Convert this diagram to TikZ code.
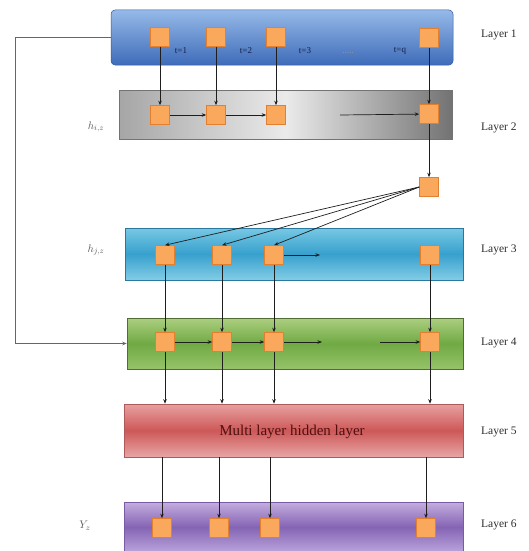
\documentclass[tikz,border=0pt]{standalone}
\usepackage{fontspec}
\setmainfont{Liberation Serif}
\usetikzlibrary{arrows.meta}
\definecolor{sqfill}{RGB}{250,168,92}
\definecolor{sqdraw}{RGB}{226,128,48}
\definecolor{lbl}{RGB}{45,45,45}
\definecolor{conn}{RGB}{30,30,30}
\tikzset{
  lay/.style={rectangle, minimum width=#1, inner sep=0pt, line width=0.5pt},
  sq/.style={rectangle, minimum width=19pt, minimum height=19pt, inner sep=0pt, fill=sqfill, draw=sqdraw, line width=0.6pt},
  arr/.style={draw=conn, line width=0.7pt, -{Stealth[length=4.5pt,width=3.5pt]}},
  laylbl/.style={anchor=west, text=lbl, font=\fontsize{11.5}{12}\selectfont, inner sep=0pt},
  tlbl/.style={text={rgb,255:red,20;green,30;blue,70}, font=\fontsize{9}{10}\selectfont, inner sep=0pt},
  hlbl/.style={text=black!65, font=\fontsize{11}{12}\selectfont, inner sep=0pt}
}
\begin{document}
\begin{tikzpicture}[x=1pt,y=-1pt]
\useasboundingbox (0,0) rectangle (529,551);
% layer boxes
\node[lay=342pt, minimum height=55pt, rounded corners=4pt, draw={rgb,255:red,50;green,90;blue,160},
  top color={rgb,255:red,150;green,185;blue,232}, bottom color={rgb,255:red,62;green,108;blue,185}] (L1) at (282,37.5) {};
\node[lay=333pt, minimum height=49pt, draw=black!55,
  left color=black!35, right color=black!55, middle color=black!8] (L2) at (285.5,114.5) {};
\node[lay=338pt, minimum height=52pt, draw={rgb,255:red,40;green,120;blue,160},
  top color={rgb,255:red,120;green,200;blue,228}, bottom color={rgb,255:red,130;green,205;blue,230}, middle color={rgb,255:red,55;green,160;blue,205}] (L3) at (294,254) {};
\node[lay=336pt, minimum height=51pt, draw={rgb,255:red,80;green,110;blue,50},
  top color={rgb,255:red,172;green,206;blue,128}, bottom color={rgb,255:red,150;green,195;blue,105}, middle color={rgb,255:red,112;green,170;blue,68}] (L4) at (295,343.5) {};
\node[lay=339pt, minimum height=53pt, draw={rgb,255:red,175;green,90;blue,90},
  top color={rgb,255:red,232;green,160;blue,160}, bottom color={rgb,255:red,232;green,165;blue,165}, middle color={rgb,255:red,205;green,88;blue,88}] (L5) at (293.5,430.5) {};
\node[lay=339pt, minimum height=49pt, draw={rgb,255:red,120;green,90;blue,165},
  top color={rgb,255:red,195;green,172;blue,222}, bottom color={rgb,255:red,185;green,162;blue,218}, middle color={rgb,255:red,132;green,100;blue,180}] (L6) at (293.5,527) {};
\node[font=\fontsize{15}{16}\selectfont, text={rgb,255:red,80;green,15;blue,15}] (mt) at (292,432) {Multi layer hidden layer};
% layer labels
\node[laylbl] (n1) at (481,35) {Layer 1};
\node[laylbl] (n2) at (481,128) {Layer 2};
\node[laylbl] (n3) at (481,250) {Layer 3};
\node[laylbl] (n4) at (481,343) {Layer 4};
\node[laylbl] (n5) at (481,432) {Layer 5};
\node[laylbl] (n6) at (481,525) {Layer 6};
% side labels
\node[hlbl] (hi) at (96,127) {$h_{i,z}$};
\node[hlbl] (hj) at (96,250) {$h_{j,z}$};
\node[hlbl] (yz) at (85,526) {$Y_z$};
% squares
\node[sq] (a1) at (160,37) {};
\node[sq] (a2) at (216,37) {};
\node[sq] (a3) at (276,37) {};
\node[sq] (a4) at (429,38) {};
\node[sq] (b1) at (160,115) {};
\node[sq] (b2) at (216,115) {};
\node[sq] (b3) at (276,115) {};
\node[sq] (b4) at (429,114) {};
\node[sq] (x) at (429,187) {};
\node[sq] (c1) at (165,255) {};
\node[sq] (c2) at (222,255) {};
\node[sq] (c3) at (274,255) {};
\node[sq] (c4) at (430,255) {};
\node[sq] (d1) at (165,342) {};
\node[sq] (d2) at (222,342) {};
\node[sq] (d3) at (274,342) {};
\node[sq] (d4) at (430,342) {};
\node[sq] (f1) at (162,528) {};
\node[sq] (f2) at (219,528) {};
\node[sq] (f3) at (270,528) {};
\node[sq] (f4) at (426,528) {};
% t labels
\node[tlbl] (t1) at (181,51) {t=1};
\node[tlbl] (t2) at (246,51) {t=2};
\node[tlbl] (t3) at (305,51) {t=3};
\node[tlbl, text=black!40] (td) at (348,53) {.....};
\node[tlbl] (tq) at (400,51) {t=q};
% coordinates
\coordinate (bfree) at (340,115);
\coordinate (cfree) at (320,255);
\coordinate (dfree3) at (322,342);
\coordinate (dfree4) at (380,342);
\coordinate (lc1) at (15,37.5);
\coordinate (lc2) at (15,343.5);
% arrows
\foreach \i in {1,...,4} {\draw[arr] (a\i) -- (b\i);}
\draw[arr] (b1) -- (b2);
\draw[arr] (b2) -- (b3);
\draw[arr] (bfree) -- (b4);
\draw[arr] (b4) -- (x);
\draw[arr] (x.west) -- (c1.north);
\draw[arr] (x.west) -- (c2.north);
\draw[arr] (x.west) -- (c3.north);
\draw[arr] (c3) -- (cfree);
\foreach \i in {1,...,4} {\draw[arr] (c\i) -- (d\i);}
\draw[arr] (d1) -- (d2);
\draw[arr] (d2) -- (d3);
\draw[arr] (d3) -- (dfree3);
\draw[arr] (dfree4) -- (d4);
\foreach \i in {1,...,4} {\draw[arr] (d\i) -- (d\i |- L5.north);}
\foreach \i in {1,...,4} {\draw[arr] (f\i |- L5.south) -- (f\i);}
\draw[arr, draw=black!60] (L1.west) -- (lc1) -- (lc2) -- (L4.west);
\end{tikzpicture}
\end{document}
